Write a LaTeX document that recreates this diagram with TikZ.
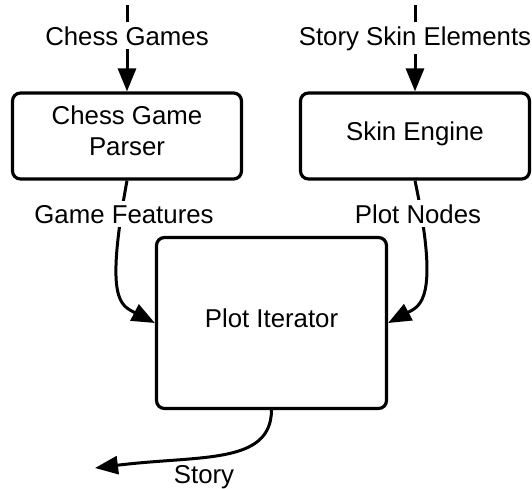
\documentclass[tikz,border=0pt]{standalone}
\usepackage{fontspec}
\setmainfont{Liberation Sans}
\usetikzlibrary{arrows.meta}
\begin{document}
\begin{tikzpicture}[x=1pt,y=-1pt,
  labelfont/.style={font=\fontsize{25.8}{31}\selectfont},
  box/.style={draw=black, line width=3.2pt, rounded corners=8pt, fill=white,
    align=center, labelfont, inner sep=0pt},
  oneline/.style={text height=18pt, text depth=10pt},
  flow/.style={draw=black, line width=3pt,
    -{Triangle[length=23pt,width=18pt]}},
  tag/.style={labelfont, fill=white, inner xsep=1pt, inner ysep=4pt, anchor=base}
]
\useasboundingbox (0,0) rectangle (532,488);

% processing blocks
\node[box, minimum width=229pt, minimum height=86pt, text depth=10pt]
  (parser) at (127,136) {Chess Game\\Parser};
\node[box, oneline, minimum width=229pt, minimum height=86pt]
  (skin) at (415,136) {Skin Engine};
\node[box, oneline, minimum width=230pt, minimum height=171pt]
  (iter) at (271.5,323) {Plot Iterator};

% free ends of the input and output flows
\coordinate (gamesin) at (127,5);
\coordinate (skinin) at (415,5);
\coordinate (storyout) at (95,468);

% inputs
\draw[flow] (gamesin) -- (parser.north);
\draw[flow] (skinin) -- (skin.north);
\node[tag] (gameslbl) at (127,45) {Chess Games};
\node[tag] (skinlbl) at (415,45) {Story Skin Elements};

% features and plot nodes into the iterator
\draw[flow] (parser.south) .. controls (105,300) and (120,305) .. (iter.west);
\draw[flow] (skin.south) .. controls (440,300) and (420,306) .. (iter.east);
\node[tag] (featlbl) at (124,223) {Game Features};
\node[tag] (nodeslbl) at (418,223) {Plot Nodes};

% output
\draw[flow] (iter.south) .. controls (271,465) and (200,455) .. (storyout);
\node[labelfont, anchor=base, inner sep=0pt] (storylbl) at (204,483) {Story};
\end{tikzpicture}
\end{document}
